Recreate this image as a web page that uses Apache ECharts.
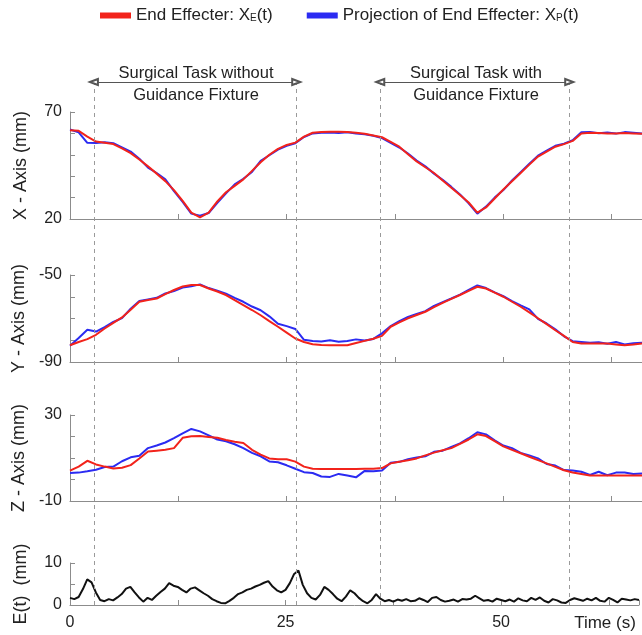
<!DOCTYPE html>
<html>
<head>
<meta charset="utf-8">
<script src="https://cdn.jsdelivr.net/npm/echarts@6/dist/echarts.min.js"></script>
<style>
  html, body { margin: 0; padding: 0; background: #fff; }
  #chart { width: 642px; height: 635px; }
</style>
</head>
<body>
<div id="chart"></div>
<script>
// time stamps (s) for the X / Y / Z traces
const time = [0,1,2,3,4,5,6,7,8,9,10,11,12,13,14,15,16,17,18,19,20,21,22,23,24,25,26,27,28,29,30,31,32,33,
  34,35,36,37,38,39,40,41,42,43,44,45,46,47,48,49,50,51,52,53,54,55,56,57,58,59,60,61,62,63,64,65,66];

// X - Axis (mm)
const xEnd = [61.5,61.2,58.5,56.2,55.6,55,53,50.8,47.8,44.6,41.2,37.7,33.5,28.5,23,20.8,23,28.2,32.5,35.5,38.5,
  42.5,46.5,50,52.8,54.6,55.7,58.5,60.3,60.7,60.8,60.8,60.6,60.3,59.8,59,58.2,56,53.8,50.3,46.9,44.2,41.5,38,
  34.6,31.2,27.7,23,25.4,29.6,33.8,37.6,41.5,45.4,49.2,51.5,53.8,55,56.5,60,60.3,60.2,60,60,60.2,60,59.8];
const xProj = [61.8,60.5,55.6,55.5,55.9,55.4,53.5,51.5,48.2,44,41.5,38.5,33,28,22.5,21.5,22.8,27.5,32,36.2,38.8,
  42,47.2,49.8,52.4,54.2,55.4,58.3,60,60.3,60.4,60.2,60.5,59.9,59.6,58.9,57.8,55.6,53.4,50.6,47.3,44.6,41.2,38.3,
  35,31.5,27.3,22.5,25.8,30,33.5,38,41.9,45.8,49.6,51.9,54.2,55.2,56.8,60.5,60.6,60.1,60.4,59.9,60.6,60.3,60];

// Y - Axis (mm)
const yEnd = [-82.3,-80.8,-79.5,-77.5,-74.6,-72,-69.5,-66,-62.3,-61.5,-60.8,-58.8,-56.9,-55.3,-54.6,-54.6,-56.2,
  -57.6,-59.2,-61.5,-63.8,-66.1,-68.5,-71.2,-73.8,-76.5,-79.2,-80.8,-81.8,-82.2,-82.3,-82.3,-82.3,-81.3,-80.3,
  -79.3,-78,-73.8,-71.8,-69.9,-68.4,-66.9,-64.8,-62.8,-61,-59.2,-57.3,-55.4,-56.2,-58.1,-60,-62.3,-64.6,-67.2,
  -69.9,-72.6,-75.4,-78,-80.8,-81.5,-81.5,-81.5,-81.5,-81.9,-82.3,-82,-81.5];
const yProj = [-82.5,-79,-75.2,-76,-74,-71.6,-69.8,-65.5,-62,-61.2,-60.5,-58.5,-57.4,-55.8,-55.2,-54.3,-56,-57.2,
  -58.6,-60.5,-62.3,-64.5,-66.2,-69,-72.4,-73.5,-74.8,-79.8,-80.3,-80.6,-80,-80.7,-80.3,-79.6,-80.1,-79.4,-76.8,
  -73.5,-71.2,-69.3,-67.9,-66.6,-64.2,-62.5,-60.8,-59,-56.8,-54.8,-56,-58,-59.7,-62,-64,-65.8,-70.2,-72.3,-75,
  -78.2,-80.4,-80.8,-81.2,-80.9,-81.6,-80.8,-81.9,-81.4,-81.1];

// Z - Axis (mm)
const zEnd = [4.1,6,8.7,7,6,5.1,5.5,6.7,9.8,13,13.4,13.8,14.6,19.4,20.1,20.2,19.8,19.4,18.4,17.6,17,13.8,11.6,
  9.8,9.4,9.4,8.3,6,5,4.9,4.9,4.9,4.9,4.9,5,5,5.3,7.5,8.3,9,9.8,11.2,12.5,13.6,14.6,16.6,18.6,21,20.2,17.8,15.4,
  13.8,12.2,10.6,9,7.5,5.9,4.3,3.3,2.6,1.9,1.9,1.9,1.9,1.9,1.9,1.9];
const zProj = [3,3.2,3.8,4.5,5.8,6,8.5,10.3,11,14.6,15.8,17.2,19.2,21.5,23.5,22.4,20.5,18.6,17.8,16.4,14.6,12.4,
  10.8,8.4,8,6.6,5,3.4,3,1.4,1.2,2.6,1.9,1,4,3.8,4.2,7.8,8.2,9.4,10.2,10.8,12.9,13.4,15.2,16.8,19.2,22,21,18.2,
  15.8,14.6,12.4,11.2,9.8,7.2,6.5,4.4,4.2,3.6,2.1,3.6,2,3.2,3.3,2.6,2.8];

// E(t) (mm)
const errTime = [0,0.5,1,1.5,2,2.5,3,3.5,4,4.5,5,5.5,6,6.5,7,7.5,8,8.5,9,9.5,10,10.5,11,11.5,12,12.5,13,13.5,
  14,14.5,15,15.5,16,16.5,17,17.5,18,18.5,19,19.5,20,20.5,21,21.5,22,22.5,23,23.5,24,24.5,25,25.5,26,26.5,27,
  27.5,28,28.5,29,29.5,30,30.5,31,31.5,32,32.5,33,33.5,34,34.5,35,35.5,36,36.5,37,37.5,38,38.5,39,39.5,40,40.5,
  41,41.5,42,42.5,43,43.5,44,44.5,45,45.5,46,46.5,47,47.5,48,48.5,49,49.5,50,50.5,51,51.5,52,52.5,53,53.5,54,
  54.5,55,55.5,56,56.5,57,57.5,58,58.5,59,59.5,60,60.5,61,61.5,62,62.5,63,63.5,64,64.5,65,65.5,66];
const errVal = [1.7,1.4,1.9,3.8,6.1,5.4,3,1.2,0.9,1.4,1.1,1.8,2.6,3.9,4.3,3,1.8,0.8,1.7,1.2,2.2,3.1,3.9,5.2,4.6,
  4.3,3.6,3,3.9,4.2,3.5,2.8,2.2,1.4,0.9,0.5,0.4,1,1.7,2.6,3,3.6,3.9,4.4,4.8,5.3,5.7,4.4,3.5,3,3.6,5.2,7.4,8.2,
  4.8,2.8,1.7,1.3,2.4,4.3,3.6,2.6,1.5,0.9,2,3.5,2.8,1.7,0.9,0.4,1.2,2.6,1.5,0.9,1.2,0.8,1.3,1,1.4,0.9,1,1.6,1.2,
  0.7,1.7,1.9,1.2,0.8,1,1.3,0.8,1.4,1.3,1.5,2.2,1.6,1,1.2,0.8,1.5,1.2,0.9,1.3,0.8,1.6,1.1,0.9,1.7,1.2,1.8,1,0.6,
  1.4,1.1,0.6,0.5,1.2,1.6,1.3,1,1.5,1.1,1.7,1,0.8,1.7,1.2,0.6,1.5,1.3,1.1,1.4,1.2];

// task boundaries (s)
const taskBounds = [2.76, 26.1, 35.8, 57.6];

const FONT = 'Liberation Sans';
const RED = '#f2231b';
const BLUE = '#2b2bf2';
const AXIS_GRAY = '#8c8c8c';

const pairs = (ts, vs) => ts.map((t, i) => [t, vs[i]]);

const grids = [
  { left: 70, right: 0, top: 112, height: 107 },
  { left: 70, right: 0, top: 275, height: 87 },
  { left: 70, right: 0, top: 415, height: 86 },
  { left: 70, right: 0, top: 563, height: 42 },
  { left: 70, right: 0, top: 82, height: 523 } // overlay for guide lines
];

function makeXAxis(idx) {
  return {
    type: 'value', gridIndex: idx, min: 0, max: 66, interval: 12.5,
    axisLine: { show: true, onZero: false, lineStyle: { color: AXIS_GRAY, width: 1 } },
    axisTick: { show: true, inside: true, length: 5, lineStyle: { color: AXIS_GRAY } },
    splitLine: { show: false },
    axisLabel: {
      show: idx === 3, margin: 10, color: '#222', fontSize: 16, fontFamily: FONT,
      formatter: v => (v % 25 === 0 && v <= 50) ? String(v) : ''
    }
  };
}

function makeYAxis(idx, min, max, interval, name) {
  return {
    type: 'value', gridIndex: idx, min, max, interval,
    name, nameLocation: 'middle', nameGap: 40, nameRotate: 90,
    nameTextStyle: { fontSize: 18, color: '#222', fontFamily: FONT },
    axisLine: { show: true, onZero: false, lineStyle: { color: AXIS_GRAY, width: 1 } },
    axisTick: { show: true, inside: true, length: 5, lineStyle: { color: AXIS_GRAY } },
    splitLine: { show: false },
    axisLabel: {
      margin: 8, color: '#222', fontSize: 16, fontFamily: FONT,
      formatter: v => (v === min || v === max) ? String(v) : ''
    }
  };
}

function trace(name, idx, ts, vs, color, z) {
  return {
    name, type: 'line', xAxisIndex: idx, yAxisIndex: idx,
    data: pairs(ts, vs), symbol: 'none', showSymbol: false, z,
    lineStyle: { color, width: 2 }, itemStyle: { color }
  };
}

const END_NAME = 'End Effecter';
const PROJ_NAME = 'Projection of End Effecter';

const chart = echarts.init(document.getElementById('chart'), null, { renderer: 'canvas' });

chart.setOption({
  animation: false,
  backgroundColor: '#fff',
  textStyle: { fontFamily: FONT },
  legend: {
    data: [END_NAME, PROJ_NAME],
    left: 100, top: 7, padding: 0,
    icon: 'rect', itemWidth: 31, itemHeight: 6, itemGap: 34,
    formatter: n => n === END_NAME
      ? '{n|End Effecter: X}{s|E}{n|(t)}'
      : '{n|Projection of End Effecter: X}{s|P}{n|(t)}',
    textStyle: {
      color: '#222',
      rich: {
        n: { fontSize: 17, fontFamily: FONT, color: '#222' },
        s: { fontSize: 10, fontFamily: FONT, color: '#222', padding: [5, 0, 0, 0] }
      }
    }
  },
  grid: grids,
  xAxis: [0, 1, 2, 3].map(makeXAxis).concat([
    { type: 'value', gridIndex: 4, min: 0, max: 66, show: false }
  ]),
  yAxis: [
    makeYAxis(0, 20, 70, 10, 'X - Axis (mm)'),
    makeYAxis(1, -90, -50, 10, 'Y - Axis (mm)'),
    makeYAxis(2, -10, 30, 10, 'Z - Axis (mm)'),
    makeYAxis(3, 0, 10, 5, 'E(t)  (mm)'),
    { type: 'value', gridIndex: 4, min: 0, max: 1, show: false }
  ],
  graphic: [
    {
      type: 'text', x: 196, y: 62,
      style: {
        text: 'Surgical Task without\nGuidance Fixture', align: 'center', verticalAlign: 'top',
        font: '16.5px "Liberation Sans"', lineHeight: 22, fill: '#222'
      }
    },
    {
      type: 'text', x: 476, y: 62,
      style: {
        text: 'Surgical Task with\nGuidance Fixture', align: 'center', verticalAlign: 'top',
        font: '16.5px "Liberation Sans"', lineHeight: 22, fill: '#222'
      }
    },
    {
      type: 'text', x: 605, y: 623,
      style: {
        text: 'Time (s)', align: 'center', verticalAlign: 'middle',
        font: '17px "Liberation Sans"', fill: '#222'
      }
    }
  ],
  series: [
    // guide lines and arrows
    {
      type: 'line', xAxisIndex: 4, yAxisIndex: 4, data: [], z: 1,
      markLine: {
        silent: true, symbol: 'none', label: { show: false },
        lineStyle: { type: [4, 4], color: '#9a9a9a', width: 1 },
        data: taskBounds.map(t => ({ xAxis: t }))
      }
    },
    {
      type: 'line', xAxisIndex: 4, yAxisIndex: 4, data: [], z: 1,
      markLine: {
        silent: true, symbol: ['emptyTriangle', 'emptyTriangle'], symbolSize: [6, 8],
        label: { show: false },
        lineStyle: { type: 'solid', color: '#555', width: 1 },
        data: [
          [{ coord: [taskBounds[0], 1] }, { coord: [taskBounds[1], 1] }],
          [{ coord: [taskBounds[2], 1] }, { coord: [taskBounds[3], 1] }]
        ]
      }
    },
    trace(PROJ_NAME, 0, time, xProj, BLUE, 2),
    trace(END_NAME, 0, time, xEnd, RED, 3),
    trace(PROJ_NAME, 1, time, yProj, BLUE, 2),
    trace(END_NAME, 1, time, yEnd, RED, 3),
    trace(PROJ_NAME, 2, time, zProj, BLUE, 2),
    trace(END_NAME, 2, time, zEnd, RED, 3),
    {
      type: 'line', xAxisIndex: 3, yAxisIndex: 3, data: pairs(errTime, errVal),
      symbol: 'none', showSymbol: false, z: 3,
      lineStyle: { color: '#111', width: 2 }
    }
  ]
});
</script>
</body>
</html>
